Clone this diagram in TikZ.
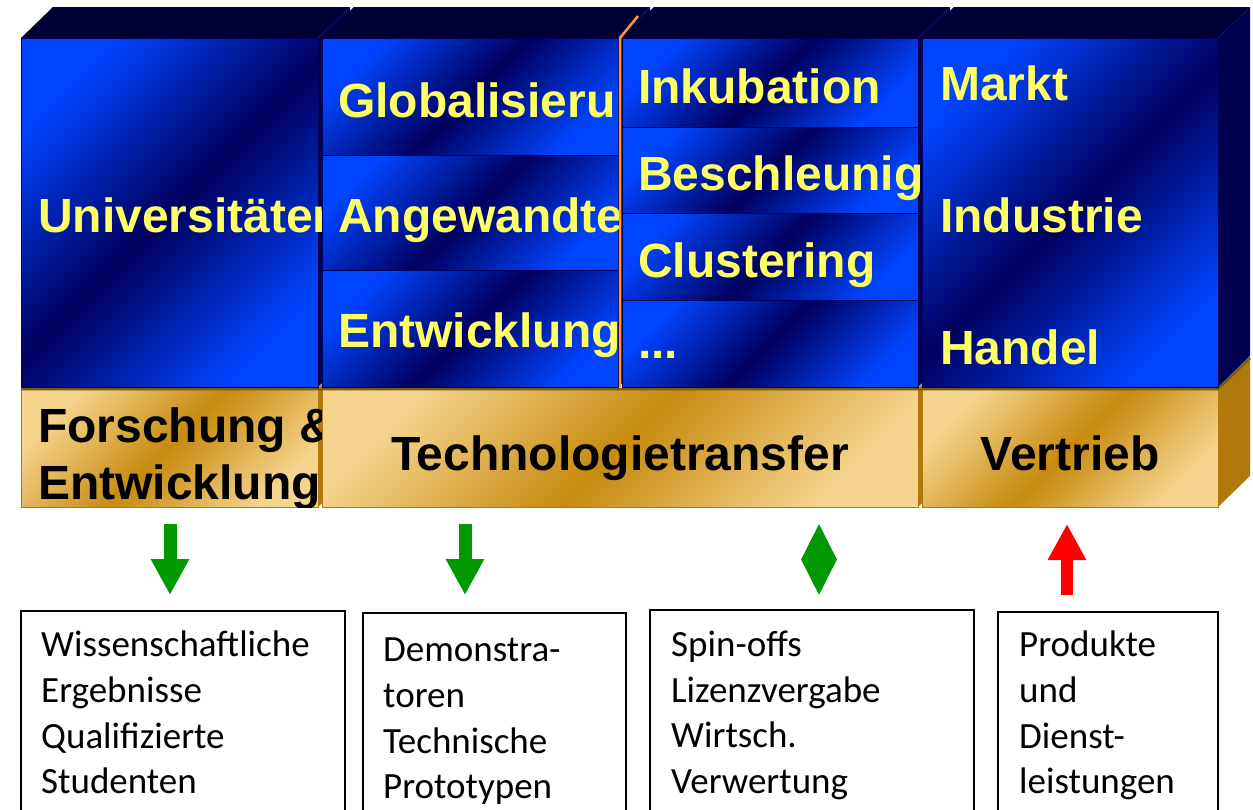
\documentclass[tikz,border=0pt]{standalone}
\usepackage{fontspec}
\setmainfont{Liberation Sans}
\newfontfamily\boxfont{Carlito}
\usetikzlibrary{arrows.meta,shapes.geometric}
\definecolor{blubright}{HTML}{0044FF}
\definecolor{bludark}{HTML}{00005E}
\definecolor{blutop}{HTML}{000035}
\definecolor{bluside}{HTML}{000050}
\definecolor{goldlight}{HTML}{F6D48E}
\definecolor{golddark}{HTML}{C68A0E}
\definecolor{goldside}{HTML}{B07A0A}
\definecolor{goldedge}{HTML}{7A5A0C}
\definecolor{labelyellow}{HTML}{FFFF66}
\definecolor{arrowgreen}{HTML}{009900}
\definecolor{seporange}{HTML}{FF9933}
\tikzset{
  bluefront/.style={draw=bludark,line width=0.8pt,top color=blubright,bottom color=blubright,middle color=bludark,shading angle=45},
  goldfront/.style={draw=goldside,line width=0.6pt,top color=goldlight,bottom color=goldlight,middle color=golddark,shading angle=45},
  bluelabel/.style={anchor=base west,inner sep=0pt,text=labelyellow,font=\fontsize{48}{56}\selectfont\bfseries},
  goldlabel/.style={anchor=base,inner sep=0pt,text=black,font=\fontsize{48}{56}\selectfont\bfseries},
  outputbox/.style={draw=black,line width=1.5pt,fill=white},
  boxtext/.style={anchor=north west,inner sep=0pt,align=left,font=\boxfont\fontsize{37}{45.6}\selectfont},
  downarrow/.style={draw=arrowgreen,line width=13pt,-{Triangle[length=36pt,width=36pt]}},
  uparrow/.style={draw=red,line width=12pt,-{Triangle[length=36pt,width=36pt]}}
}
\begin{document}
\begin{tikzpicture}[x=1pt,y=-1pt]
\useasboundingbox (0,0) rectangle (1253,809);
\clip (0,0) rectangle (1253,809);
% gold row:
\path[fill=goldside] (318,388) -- (350,357) -- (350,476) -- (318,507) -- cycle;
\path[goldfront] (21,388) rectangle (318,507);
\begin{scope}
\clip (21,388) rectangle (322,507);
\node[goldlabel,anchor=base west] (fue1) at (38,442) {Forschung \&};
\node[goldlabel,anchor=base west] (fue2) at (38,499) {Entwicklung};
\end{scope}
\path[fill=goldside] (918,388) -- (950,357) -- (950,476) -- (918,507) -- cycle;
\path[goldfront] (322,388) rectangle (918,507);
\node[goldlabel] (transfer) at (620,470) {Technologietransfer};
\path[fill=goldside] (1218,388) -- (1250,357) -- (1250,476) -- (1218,507) -- cycle;
\path[goldfront] (922,388) rectangle (1218,507);
\node[goldlabel] (vertrieb) at (1070,470) {Vertrieb};
\path[draw=goldedge,line width=2.5pt] (21,389) -- (1218,389) -- (1250,358);
% blue column 1:
\path[fill=blutop] (21,38) -- (53,7) -- (350,7) -- (318,38) -- cycle;
\path[fill=bluside] (318,38) -- (350,7) -- (350,356) -- (318,387) -- cycle;
\path[bluefront] (21,38) rectangle (318,387);
\begin{scope}
\clip (21,38) rectangle (322,387);
\node[bluelabel] (univ) at (38,232) {Universitäten};
\end{scope}
% blue column 2:
\path[fill=blutop] (322,38) -- (354,7) -- (650,7) -- (618,38) -- cycle;
\path[fill=bluside] (618,38) -- (650,7) -- (650,356) -- (618,387) -- cycle;
\path[bluefront] (322,38) rectangle (618,155);
\path[bluefront] (322,155) rectangle (618,270);
\path[bluefront] (322,270) rectangle (618,387);
\begin{scope}
\clip (322,38) rectangle (618,387);
\node[bluelabel] (global) at (338,117) {Globalisieru};
\node[bluelabel] (angew) at (338,232) {Angewandte};
\node[bluelabel] (entw) at (338,347) {Entwicklung};
\end{scope}
% blue column 3:
\path[fill=blutop] (622,38) -- (654,7) -- (950,7) -- (918,38) -- cycle;
\path[fill=bluside] (918,38) -- (950,7) -- (950,356) -- (918,387) -- cycle;
\path[bluefront] (622,38) rectangle (918,127);
\path[bluefront] (622,127) rectangle (918,213);
\path[bluefront] (622,213) rectangle (918,300);
\path[bluefront] (622,300) rectangle (918,387);
\begin{scope}
\clip (622,38) rectangle (921,387);
\node[bluelabel] (inkub) at (638,103) {Inkubation};
\node[bluelabel] (beschl) at (638,190) {Beschleunigung};
\node[bluelabel] (cluster) at (638,277) {Clustering};
\node[bluelabel] (weitere) at (638,358) {...};
\end{scope}
\path[draw=seporange,line width=2.5pt] (620,387) -- (620,38) -- (638,16);
% blue column 4:
\path[fill=blutop] (922,38) -- (954,7) -- (1250,7) -- (1218,38) -- cycle;
\path[fill=bluside] (1218,38) -- (1250,7) -- (1250,356) -- (1218,387) -- cycle;
\path[bluefront] (922,38) rectangle (1218,387);
\node[bluelabel] (markt) at (940,100) {Markt};
\node[bluelabel] (industrie) at (940,232) {Industrie};
\node[bluelabel] (handel) at (940,364) {Handel};
% arrows:
\coordinate (fueA) at (170,524);
\coordinate (fueB) at (170,595);
\coordinate (techA) at (465,524);
\coordinate (techB) at (465,595);
\coordinate (vertA) at (1067,595);
\coordinate (vertB) at (1067,524);
\draw[downarrow] (fueA) -- (fueB);
\draw[downarrow] (techA) -- (techB);
\node[diamond,fill=arrowgreen,minimum width=36pt,minimum height=71pt,inner sep=0pt] (spindiamond) at (819,559.5) {};
\draw[uparrow] (vertA) -- (vertB);
% output boxes:
\path[outputbox] (21,611) rectangle (345,815);
\path[outputbox] (363,613) rectangle (626,815);
\path[outputbox] (650,610) rectangle (974,815);
\path[outputbox] (998,612) rectangle (1218,815);
\node[boxtext] (ergebnisse) at (41,631) {Wissenschaftliche\\Ergebnisse\\Qualifizierte\\Studenten};
\node[boxtext] (prototypen) at (383,638) {Demonstra-\\toren\\Technische\\Prototypen};
\node[boxtext] (spinoffs) at (671,631) {Spin-offs\\Lizenzvergabe\\Wirtsch.\\Verwertung};
\node[boxtext] (produkte) at (1019,631) {Produkte\\und\\Dienst-\\leistungen};
\end{tikzpicture}
\end{document}
